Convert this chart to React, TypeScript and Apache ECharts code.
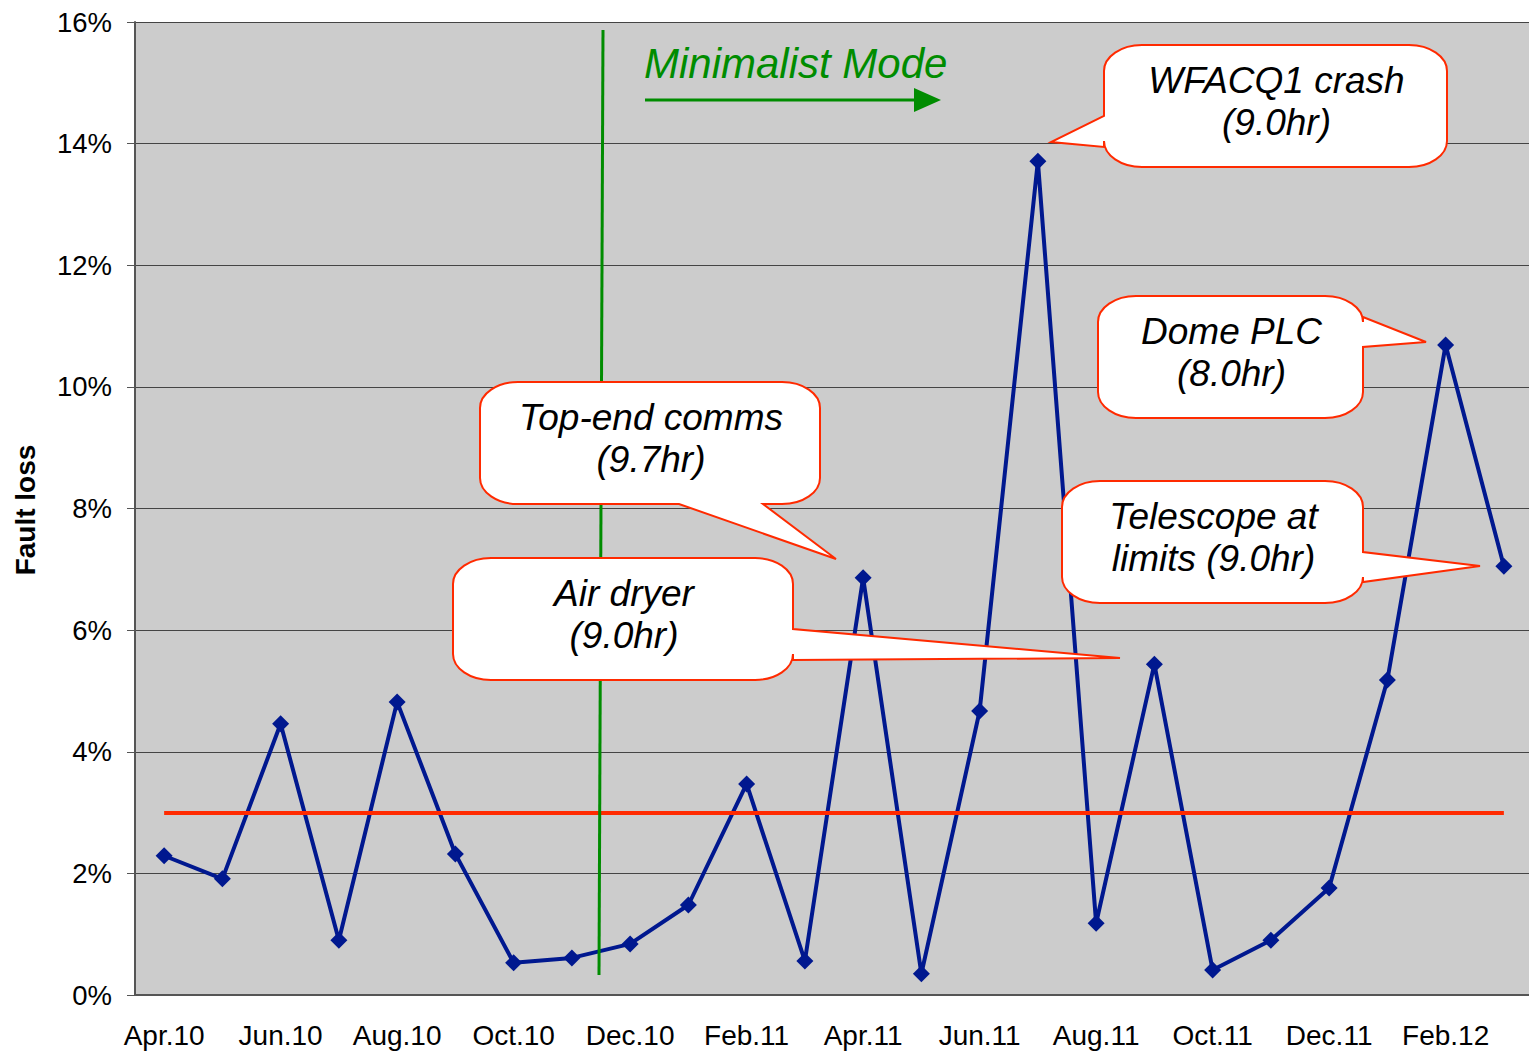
import React, { useEffect, useRef } from "react";
import * as echarts from "echarts";

const months = [
  "Apr.10", "May.10", "Jun.10", "Jul.10", "Aug.10", "Sep.10", "Oct.10", "Nov.10",
  "Dec.10", "Jan.11", "Feb.11", "Mar.11", "Apr.11", "May.11", "Jun.11", "Jul.11",
  "Aug.11", "Sep.11", "Oct.11", "Nov.11", "Dec.11", "Jan.12", "Feb.12", "Mar.12",
];
const faultLoss = [
  2.29, 1.91, 4.46, 0.9, 4.82, 2.32, 0.53, 0.61, 0.84, 1.48, 3.47, 0.56,
  6.86, 0.35, 4.67, 13.71, 1.18, 5.44, 0.41, 0.9, 1.76, 5.18, 10.69, 7.05,
];
const targetLevel = 3;
const yMin = 0;
const yMax = 16;
const yStep = 2;
const modeStartBetween = ["Nov.10", "Dec.10"];
const modeLabel = "Minimalist Mode";
const yTitle = "Fault loss";
const calloutTexts = [
  "WFACQ1 crash\n(9.0hr)",
  "Top-end comms\n(9.7hr)",
  "Air dryer\n(9.0hr)",
  "Dome PLC\n(8.0hr)",
  "Telescope at\nlimits (9.0hr)",
];

// annotation geometry (pixels)
const calloutBoxes = [
  { x: 1104, y: 45, w: 343, h: 122, side: "left", a: 116, b: 147, tx: 1051, ty: 142 },
  { x: 480, y: 382, w: 340, h: 122, side: "bottom", a: 679, b: 763, tx: 836, ty: 559 },
  { x: 453, y: 558, w: 340, h: 122, side: "right", a: 629, b: 660, tx: 1120, ty: 658 },
  { x: 1098, y: 296, w: 265, h: 122, side: "right", a: 317, b: 347, tx: 1426, ty: 342 },
  { x: 1062, y: 481, w: 301, h: 122, side: "right", a: 552, b: 582, tx: 1480, ty: 566 },
];

function calloutPath(c: any) {
  const { x, y, w, h } = c;
  const rx = 38, ry = 26, k = 0.5523;
  const r = x + w, btm = y + h;
  let d = `M${x + rx},${y} L${r - rx},${y} `;
  d += `C${r - rx + k * rx},${y} ${r},${y + ry - k * ry} ${r},${y + ry} `;
  if (c.side === "right") d += `L${r},${c.a} L${c.tx},${c.ty} L${r},${c.b} `;
  d += `L${r},${btm - ry} `;
  d += `C${r},${btm - ry + k * ry} ${r - rx + k * rx},${btm} ${r - rx},${btm} `;
  if (c.side === "bottom") d += `L${c.b},${btm} L${c.tx},${c.ty} L${c.a},${btm} `;
  d += `L${x + rx},${btm} `;
  d += `C${x + rx - k * rx},${btm} ${x},${btm - ry + k * ry} ${x},${btm - ry} `;
  if (c.side === "left") d += `L${x},${c.b} L${c.tx},${c.ty} L${x},${c.a} `;
  d += `L${x},${y + ry} `;
  d += `C${x},${y + ry - k * ry} ${x + rx - k * rx},${y} ${x + rx},${y} Z`;
  return d;
}

calloutBoxes.forEach((c, i) => {
  echarts.graphic.registerShape("callout" + i, echarts.graphic.extendPath(calloutPath(c), {}));
});

export default function App() {
  const ref = useRef<HTMLDivElement>(null);
  useEffect(() => {
    const chart = echarts.init(ref.current!, null, { renderer: "svg" });
    const font = "'Liberation Sans', Arial, Helvetica, sans-serif";
    chart.setOption({
      animation: false,
      backgroundColor: "#ffffff",
      textStyle: { fontFamily: font },
      grid: {
        left: 135, top: 22, right: -4, bottom: 57,
        outerBoundsMode: "none",
        containLabel: false,
        show: true, backgroundColor: "#cccccc", borderWidth: 0,
      },
      xAxis: {
        type: "category",
        data: months,
        boundaryGap: true,
        axisLine: { lineStyle: { color: "#555555", width: 2 } },
        axisTick: { interval: 1, length: 8, lineStyle: { color: "#555555", width: 1 } },
        axisLabel: { interval: 1, margin: 26, fontSize: 28, color: "#000", fontFamily: font },
        splitLine: { show: false },
      },
      yAxis: {
        type: "value",
        min: yMin, max: yMax, interval: yStep,
        axisLine: { show: true, lineStyle: { color: "#555555", width: 2 } },
        axisTick: { show: true, length: 8, lineStyle: { color: "#555555" } },
        axisLabel: { formatter: "{value}%", margin: 23, fontSize: 27.5, color: "#000", fontFamily: font },
        splitLine: { show: true, lineStyle: { color: "#444444", width: 1 } },
      },
      series: [
        {
          type: "line",
          data: faultLoss,
          symbol: "diamond",
          symbolSize: 17,
          lineStyle: { color: "#00188f", width: 4 },
          itemStyle: { color: "#00188f" },
          z: 3,
          markLine: {
            silent: true,
            symbol: "none",
            label: { show: false },
            lineStyle: { color: "#ff2a00", width: 4, type: "solid" },
            data: [[{ coord: [months[0], targetLevel] }, { coord: [months[months.length - 1], targetLevel] }]],
          },
        },
      ],
    });

    const x1 = chart.convertToPixel({ xAxisIndex: 0 }, modeStartBetween[0]) as number;
    const x2 = chart.convertToPixel({ xAxisIndex: 0 }, modeStartBetween[1]) as number;
    const gx = (x1 + x2) / 2;

    const graphics: any[] = [
      {
        type: "line", z: 50,
        shape: { x1: gx + 2, y1: 30, x2: gx - 2, y2: 975 },
        style: { stroke: "#008c00", lineWidth: 3 },
      },
      {
        type: "text", z: 50, x: 644, y: 63,
        style: {
          text: modeLabel, fill: "#008c00", font: `italic 42px ${font}`,
          textAlign: "left", textVerticalAlign: "middle",
        },
      },
      {
        type: "line", z: 50,
        shape: { x1: 645, y1: 100, x2: 918, y2: 100 },
        style: { stroke: "#008c00", lineWidth: 3 },
      },
      {
        type: "polygon", z: 50,
        shape: { points: [[914, 88], [941, 100], [914, 112]] },
        style: { fill: "#008c00" },
      },
      {
        type: "text", z: 50, x: 25, y: 510, rotation: Math.PI / 2,
        style: {
          text: yTitle, fill: "#000", font: `bold 28px ${font}`,
          textAlign: "center", textVerticalAlign: "middle",
        },
      },
    ];
    calloutBoxes.forEach((c, i) => {
      graphics.push({
        type: "callout" + i, z: 100,
        style: { fill: "#ffffff", stroke: "#ff2a00", lineWidth: 2 },
      });
      graphics.push({
        type: "text", z: 101, x: c.x + c.w / 2 + 1, y: c.y + c.h / 2 - 5,
        style: {
          text: calloutTexts[i], fill: "#000", font: `italic 37px ${font}`,
          textAlign: "center", textVerticalAlign: "middle", lineHeight: 42,
        },
      });
    });
    chart.setOption({ graphic: graphics });
    return () => chart.dispose();
  }, []);
  return (
    <div
      ref={ref}
      style={{ position: "fixed", left: 0, top: 0, width: 1529, height: 1052 }}
    />
  );
}
